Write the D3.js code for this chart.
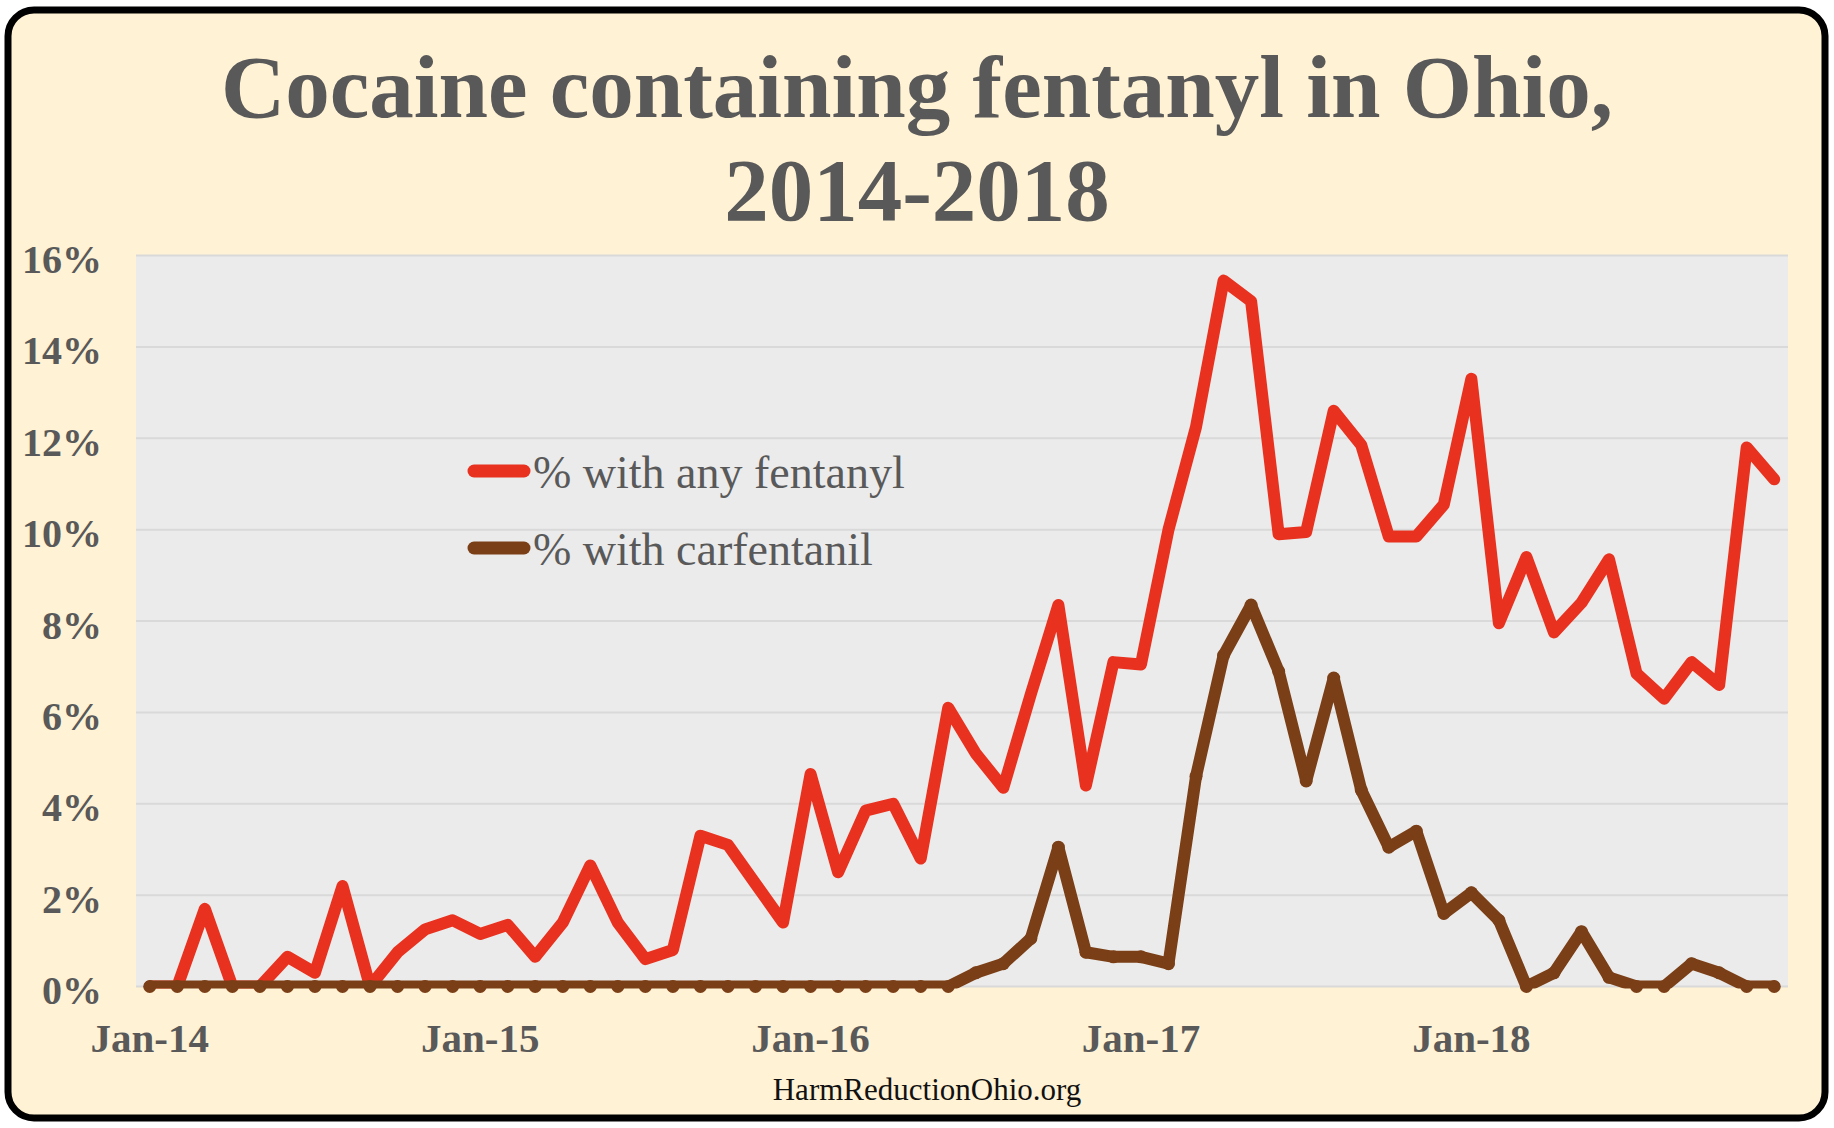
<!DOCTYPE html>
<html>
<head>
<meta charset="utf-8">
<script src="https://cdn.jsdelivr.net/npm/d3@7"></script>
<style>
  body { margin: 0; background: #ffffff; }
  svg text { font-family: 'Times New Roman', 'Liberation Serif', serif; }
</style>
</head>
<body>
<div id="chart"></div>
<script>
// month categories, Jan-14 .. Dec-18
const years = ['14', '15', '16', '17', '18']
const monthNames = ['Jan', 'Feb', 'Mar', 'Apr', 'May', 'Jun', 'Jul', 'Aug', 'Sep', 'Oct', 'Nov', 'Dec']
const months = years.flatMap((y) => monthNames.map((m) => m + '-' + y))

const xTickLabels = ['Jan-14', 'Jan-15', 'Jan-16', 'Jan-17', 'Jan-18']
const yTicks = [0, 2, 4, 6, 8, 10, 12, 14, 16]

// percent of cocaine samples
const anyFentanyl = [
  0, 0, 1.7, 0, 0, 0.65, 0.3, 2.2, 0, 0.75, 1.25, 1.45,
  1.15, 1.35, 0.65, 1.4, 2.65, 1.4, 0.6, 0.8, 3.3, 3.1, 2.25, 1.4,
  4.65, 2.5, 3.85, 4.0, 2.8, 6.1, 5.1, 4.35, 6.4, 8.35, 4.4, 7.1,
  7.05, 10.0, 12.25, 15.45, 15.0, 9.9, 9.95, 12.6, 11.85, 9.85, 9.85, 10.55,
  13.3, 7.95, 9.4, 7.75, 8.4, 9.35, 6.85, 6.3, 7.1, 6.6, 11.8, 11.1,
]
const carfentanil = [
  0, 0, 0, 0, 0, 0, 0, 0, 0, 0, 0, 0,
  0, 0, 0, 0, 0, 0, 0, 0, 0, 0, 0, 0,
  0, 0, 0, 0, 0, 0, 0.3, 0.5, 1.05, 3.05, 0.75, 0.65,
  0.65, 0.5, 4.6, 7.25, 8.35, 6.9, 4.5, 6.75, 4.3, 3.05, 3.4, 1.6,
  2.05, 1.45, 0, 0.3, 1.2, 0.2, 0, 0, 0.5, 0.3, 0, 0,
]

const seriesNames = ['% with any fentanyl', '% with carfentanil']
const seriesColors = ['#e8321f', '#7b3f17']

const W = 1834, H = 1128
const plot = { left: 136, right: 1788, top: 255.5, bottom: 986.5 }
const gray = '#595959'

const svg = d3.select('#chart').append('svg').attr('width', W).attr('height', H)

// card background
svg.append('rect')
  .attr('x', 8).attr('y', 10).attr('width', 1817).attr('height', 1108)
  .attr('rx', 26).attr('fill', '#fff2d5')
  .attr('stroke', '#000').attr('stroke-width', 7)

// title
const title = svg.append('text')
  .attr('text-anchor', 'middle')
  .attr('fill', gray)
  .style('font-size', '89px')
  .style('font-weight', 'bold')
title.append('tspan').attr('x', 917).attr('y', 117).text('Cocaine containing fentanyl in Ohio,')
title.append('tspan').attr('x', 917).attr('y', 220).text('2014-2018')

const x = d3.scaleBand().domain(months).range([plot.left, plot.right]).paddingInner(0).paddingOuter(0)
const y = d3.scaleLinear().domain([0, 16]).range([plot.bottom, plot.top])
const cx = (i) => x(months[i]) + x.bandwidth() / 2

// plot area
svg.append('rect')
  .attr('x', plot.left).attr('y', plot.top)
  .attr('width', plot.right - plot.left).attr('height', plot.bottom - plot.top)
  .attr('fill', '#ebebeb')

svg.append('g')
  .selectAll('line')
  .data(yTicks)
  .enter()
  .append('line')
  .attr('x1', plot.left).attr('x2', plot.right)
  .attr('y1', (d) => y(d)).attr('y2', (d) => y(d))
  .attr('stroke', '#d9d9d9').attr('stroke-width', 2)

// y axis labels
const yAxis = svg.append('g')
  .attr('transform', `translate(${plot.left},0)`)
  .call(d3.axisLeft(y).tickValues(yTicks).tickSize(0).tickPadding(34).tickFormat((d) => d + '%'))
yAxis.select('.domain').remove()
yAxis.selectAll('text')
  .attr('fill', gray)
  .attr('dy', 17)
  .style('font-size', '40px')
  .style('font-weight', 'bold')
  .style('font-family', "'Times New Roman', 'Liberation Serif', serif")

// x axis labels
const xAxis = svg.append('g')
  .attr('transform', `translate(0,${plot.bottom})`)
  .call(d3.axisBottom(x).tickValues(xTickLabels).tickSize(0).tickPadding(0))
xAxis.select('.domain').remove()
xAxis.selectAll('text')
  .attr('fill', gray)
  .attr('dy', 0)
  .attr('y', 65)
  .style('font-size', '41px')
  .style('font-weight', 'bold')
  .style('font-family', "'Times New Roman', 'Liberation Serif', serif")

// lines are clipped to the plot area, markers are not
svg.append('clipPath').attr('id', 'plotClip')
  .append('rect')
  .attr('x', 0).attr('y', plot.top - 20)
  .attr('width', W).attr('height', plot.bottom + 2 - (plot.top - 20))

const line = d3.line()
  .x((d, i) => cx(i))
  .y((d) => y(d))

const allSeries = [anyFentanyl, carfentanil]
allSeries.forEach((values, k) => {
  svg.append('path')
    .datum(values)
    .attr('clip-path', 'url(#plotClip)')
    .attr('d', line)
    .attr('fill', 'none')
    .attr('stroke', seriesColors[k])
    .attr('stroke-width', 12)
    .attr('stroke-linejoin', 'round')
    .attr('stroke-linecap', 'round')
})

// carfentanil markers
svg.append('g')
  .selectAll('circle')
  .data(carfentanil)
  .enter()
  .append('circle')
  .attr('cx', (d, i) => cx(i))
  .attr('cy', (d) => y(d))
  .attr('r', 6.5)
  .attr('fill', seriesColors[1])

// legend
const legend = svg.append('g')
const legendRows = legend.selectAll('g')
  .data(seriesNames)
  .enter()
  .append('g')
  .attr('transform', (d, i) => `translate(0,${471 + i * 77})`)
legendRows.append('line')
  .attr('x1', 474).attr('x2', 524)
  .attr('stroke', (d, i) => seriesColors[i])
  .attr('stroke-width', 13)
  .attr('stroke-linecap', 'round')
legendRows.append('text')
  .attr('x', 533).attr('y', 17)
  .attr('fill', gray)
  .style('font-size', '46px')
  .text((d) => d)

// source
svg.append('text')
  .attr('x', 927).attr('y', 1100)
  .attr('text-anchor', 'middle')
  .attr('fill', '#111')
  .style('font-size', '31px')
  .text('HarmReductionOhio.org')
</script>
</body>
</html>
